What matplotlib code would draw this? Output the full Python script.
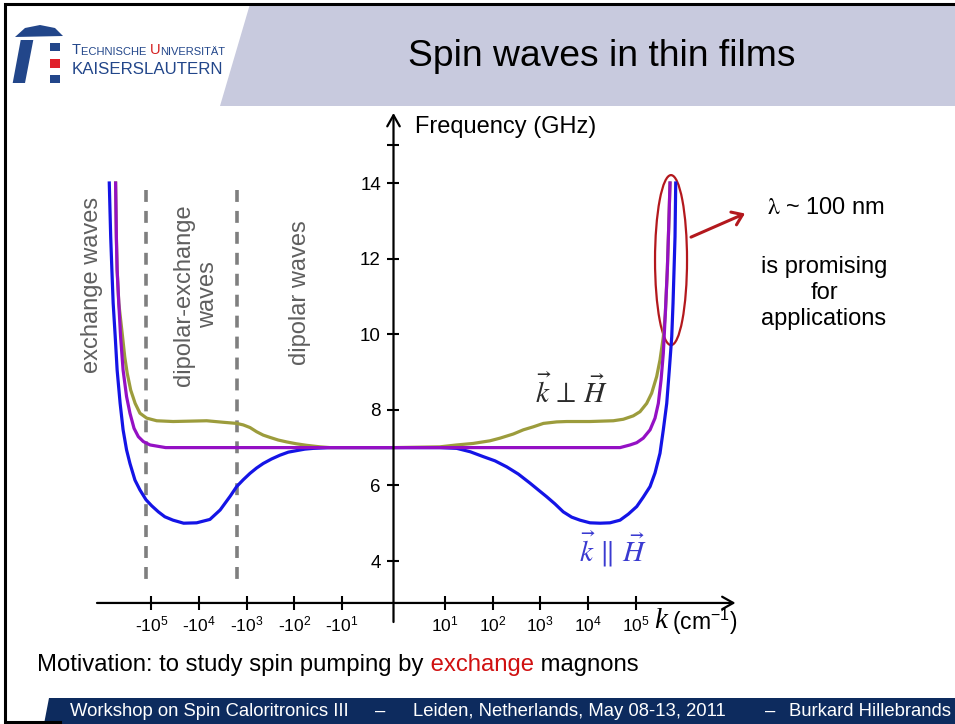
import numpy as np
import matplotlib
matplotlib.use('Agg')
import matplotlib.pyplot as plt
from matplotlib.patches import Polygon, Rectangle, Ellipse, FancyArrowPatch
from matplotlib.ticker import NullLocator

plt.rcParams['font.family'] = ['Liberation Sans', 'DejaVu Sans']
plt.rcParams['mathtext.fontset'] = 'custom'
plt.rcParams['mathtext.rm'] = 'Liberation Sans'
plt.rcParams['mathtext.it'] = 'Liberation Sans:italic'
plt.rcParams['mathtext.bf'] = 'Liberation Sans:bold'

# spin-wave dispersion, wave vector k in 1/cm, frequency in GHz
# k parallel to H (blue)
k_par = [-7.6e5, -7.1e5, -6.7e5, -6.3e5, -5.7e5, -5.2e5, -4.5e5, -3.9e5, -3.3e5,
         -2.8e5, -2.2e5, -1.73e5, -1.29e5, -9.8e4, -7.1e4, -5.2e4, -3.5e4, -2.1e4,
         -1.12e4, -5.9e3, -3.6e3, -2.2e3, -1.62e3, -1.18e3, -850, -620, -450, -300,
         -200, -134, -90, -60, -40, -18, 0,
         9, 17.7, 34, 64, 112, 198, 346, 608, 908, 1360, 2030, 3030, 4550, 6800,
         1.1e4, 1.79e4, 2.89e4, 4.69e4, 7.0e4, 1.05e5, 1.44e5, 2.0e5, 2.54e5,
         3.23e5, 3.79e5, 4.47e5, 5.06e5, 5.69e5, 6.06e5, 6.36e5, 6.67e5, 6.9e5]
f_par = [14.0, 12.58, 11.70, 10.82, 9.93, 9.05, 8.17, 7.47, 6.94,
         6.58, 6.14, 5.88, 5.62, 5.46, 5.30, 5.17, 5.08, 5.0,
         5.01, 5.10, 5.35, 5.72, 5.97, 6.15, 6.32, 6.46, 6.58, 6.70,
         6.80, 6.88, 6.92, 6.96, 6.98, 7.0, 7.0,
         7.0, 6.98, 6.89, 6.76, 6.65, 6.49, 6.30, 6.06, 5.88, 5.70, 5.51, 5.30, 5.16, 5.08,
         5.01, 5.0, 5.01, 5.08, 5.24, 5.44, 5.69, 5.97, 6.33,
         6.85, 7.47, 8.17, 9.05, 9.93, 10.82, 11.7, 12.58, 14.0]

# k perpendicular to H (olive)
k_perp = [-5.6e5, -5.4e5, -5.2e5, -4.8e5, -4.0e5, -3.6e5, -3.2e5, -2.7e5, -2.18e5,
          -1.73e5, -1.25e5, -7.7e4, -3.5e4, -1.55e4, -6.9e3, -3.1e3, -1.62e3, -1.18e3,
          -850, -620, -450, -325, -218, -145, -90, -55, -29, -18, 0,
          9, 17.7, 39, 88, 143, 272, 440, 713, 1160, 2210, 3580, 1.1e4, 3.39e4,
          5.5e4, 8.9e4, 1.23e5, 1.7e5, 2.16e5, 2.75e5, 3.23e5, 3.79e5, 4.18e5,
          4.6e5, 4.92e5, 5.24e5]
f_perp = [14.0, 12.58, 11.7, 10.82, 9.93, 9.40, 8.97, 8.52, 8.17,
          7.91, 7.78, 7.71, 7.69, 7.70, 7.71, 7.67, 7.64, 7.60,
          7.53, 7.42, 7.33, 7.27, 7.20, 7.15, 7.10, 7.06, 7.02, 7.0, 7.0,
          7.02, 7.07, 7.11, 7.18, 7.25, 7.36, 7.47, 7.55, 7.64, 7.68, 7.69, 7.69, 7.71,
          7.75, 7.84, 7.95, 8.17, 8.44, 8.88, 9.32, 9.93, 10.55,
          11.7, 12.84, 14.0]

# intermediate branch (purple)
k_mid = [-5.6e5, -5.4e5, -5.2e5, -4.8e5, -4.4e5, -3.9e5, -3.3e5, -2.8e5, -2.3e5,
         -1.87e5, -1.47e5, -1.06e5, -7.7e4, -5.0e4, 0,
         4.7e4, 7.6e4, 1.05e5, 1.44e5, 2.0e5, 2.54e5, 2.98e5, 3.4e5, 3.79e5,
         4.18e5, 4.6e5, 4.92e5, 5.24e5]
f_mid = [14.0, 12.58, 11.7, 10.82, 9.93, 9.05, 8.35, 7.91, 7.51,
         7.29, 7.16, 7.07, 7.04, 7.0, 7.0,
         7.0, 7.07, 7.13, 7.25, 7.47, 7.78, 8.17, 8.79, 9.49,
         10.55, 11.7, 12.84, 14.0]

# borders between exchange / dipolar-exchange / dipolar regimes
region_edges = [-1.3e5, -1.6e3]

k_ticks = [-1e5, -1e4, -1e3, -1e2, -1e1, 1e1, 1e2, 1e3, 1e4, 1e5]
f_ticks = [4, 6, 8, 10, 12, 14, 15]
f_labels = ['4', '6', '8', '10', '12', '14', '']
f_axis = 2.89

W, H = 955, 724
fig = plt.figure(figsize=(W / 100, H / 100), dpi=100)

# slide background in pixel coordinates
bg = fig.add_axes([0, 0, 1, 1])
bg.set_xlim(0, W)
bg.set_ylim(H, 0)
bg.axis('off')

bg.add_patch(Polygon([(250, 4), (W, 4), (W, 106), (220, 106)], closed=True,
                     facecolor='#c8cade', edgecolor='none'))
bg.plot([W, 5, 5, 60], [4, 4, 722, 722], color='black', lw=2.2, solid_joinstyle='miter')
bg.text(602, 57, 'Spin waves in thin films', ha='center', va='center', fontsize=26.8)

# university logo
blue_logo = '#22468a'
bg.add_patch(Polygon([(15, 37), (25, 28), (40, 25), (55, 28), (63, 36)], closed=True,
                     facecolor=blue_logo, edgecolor='none'))
bg.add_patch(Polygon([(20.7, 40), (33.3, 40), (25, 83), (12.7, 83)], closed=True,
                     facecolor=blue_logo, edgecolor='none'))
for y0, c in [(42.7, blue_logo), (59.3, '#e0202a'), (75, blue_logo)]:
    bg.add_patch(Rectangle((49.5, y0), 10.5, 8.3, facecolor=c, edgecolor='none'))
t = bg.text(72, 54, 'T', fontsize=10.5, color=blue_logo, va='baseline')
for s, c, fs in [('ECHNISCHE ', blue_logo, 8), ('U', '#d42020', 10.5), ('NIVERSITÄT', blue_logo, 8)]:
    t = bg.annotate(s, xycoords=t, xy=(1, 0), va='bottom', fontsize=fs, color=c)
bg.text(72, 73.5, 'KAISERSLAUTERN', fontsize=12.2, color=blue_logo, va='baseline')

# footer
bg.add_patch(Polygon([(44, H), (49, 698), (W, 698), (W, H)], closed=True,
                     facecolor='#0d2b5e', edgecolor='none'))
foot = dict(color='white', fontsize=13.3, va='center')
bg.text(70, 711, 'Workshop on Spin Caloritronics III', **foot)
bg.text(380, 711, '–', ha='center', **foot)
bg.text(413, 711, 'Leiden, Netherlands, May 08-13, 2011', **foot)
bg.text(770, 711, '–', ha='center', **foot)
bg.text(951, 711, 'Burkard Hillebrands', ha='right', **foot)

t = bg.text(37, 671, 'Motivation: to study spin pumping by', fontsize=17.2, va='baseline')
t = bg.annotate(' exchange', xycoords=t, xy=(1, 0), va='bottom', fontsize=17.2, color='#d01010')
bg.annotate(' magnons', xycoords=t, xy=(1, 0), va='bottom', fontsize=17.2)

# dispersion chart
ax = fig.add_axes([60 / W, 1 - 640 / H, 680 / W, 540 / H])
ax.patch.set_visible(False)
ax.set_xscale('symlog', linthresh=10, linscale=0.97)
dec_px = 47.7
t_lo = -(393.5 - 60) / dec_px * 10
t_hi = (740 - 393.5) / dec_px * 10
inv = ax.xaxis.get_transform().inverted()
ax.set_xlim(*inv.transform(np.array([[t_lo], [t_hi]])).ravel())
ax.set_ylim(14 - (640 - 183) / 37.8, 14 + (183 - 100) / 37.8)

for sp in ax.spines.values():
    sp.set_visible(False)
ax.spines['bottom'].set_position(('data', f_axis))
ax.spines['left'].set_position(('data', 0))

ax.set_xticks(k_ticks)
ax.set_xticklabels([('-' if v < 0 else '') + r'$10^{%d}$' % round(np.log10(abs(v))) for v in k_ticks])
ax.xaxis.set_minor_locator(NullLocator())
ax.set_yticks(f_ticks)
ax.set_yticklabels(f_labels)
ax.yaxis.set_minor_locator(NullLocator())
ax.tick_params(axis='x', direction='inout', length=10, width=1.5, pad=3, labelsize=12.5)
ax.tick_params(axis='y', direction='inout', length=8, width=1.5, pad=5, labelsize=13.5)

arrow_kw = dict(arrowstyle='->,head_length=0.8,head_width=0.45', lw=1.6, color='black',
                shrinkA=0, shrinkB=0)
ax.annotate('', xy=(0.9934, f_axis), xycoords=('axes fraction', 'data'),
            xytext=(0.0544, f_axis), textcoords=('axes fraction', 'data'), arrowprops=arrow_kw)
ax.annotate('', xy=(0, 0.976), xycoords=('data', 'axes fraction'),
            xytext=(0, 0.0333), textcoords=('data', 'axes fraction'), arrowprops=arrow_kw)

ax.vlines(region_edges, 13.81, 3.42, colors='#7f7f7f', lw=2.6, linestyles=(0, (3.3, 2.5)))

ax.plot(k_perp, f_perp, color='#9c9c3c', lw=2.3, solid_joinstyle='round')
ax.plot(k_par, f_par, color='#1414e6', lw=2.3, solid_joinstyle='round')
ax.plot(k_mid, f_mid, color='#9410c4', lw=2.3, solid_joinstyle='round')

# axis titles and annotations
bg.text(415, 127, 'Frequency (GHz)', ha='left', va='center', fontsize=17)
bg.text(661, 621, 'k', ha='center', va='center', fontsize=21, family='Liberation Serif', style='italic')
bg.text(672, 622, '(cm$^{-1}$)', ha='left', va='center', fontsize=16.5)

gray = '#5f5f5f'
bg.text(91.7, 285, 'exchange waves', rotation=90, ha='center', va='center', fontsize=17, color=gray)
bg.text(196, 295, 'dipolar-exchange\nwaves', rotation=90, ha='center', va='center',
        fontsize=17, color=gray, multialignment='center', linespacing=1.1)
bg.text(300, 293, 'dipolar waves', rotation=90, ha='center', va='center', fontsize=17, color=gray)

bg.text(571, 392, r'$\vec{k}\,\perp\,\vec{H}$', ha='center', va='center', fontsize=21,
        color='#2b2b2b', math_fontfamily='stix')
bg.text(613, 549, r'$\vec{k}\,\parallel\,\vec{H}$', ha='center', va='center', fontsize=21,
        color='#3a3ad0', math_fontfamily='stix')

# highlight of the short-wavelength exchange branch
cx, cy = bg.transData.inverted().transform(ax.transData.transform((5.5e5, 11.96)))
bg.add_patch(Ellipse((cx, cy), 32, 170, facecolor='none', edgecolor='#b3181d', lw=1.6))
bg.add_patch(FancyArrowPatch((cx + 20, cy - 23), (745, 213.5), arrowstyle='->,head_length=7,head_width=5',
                             color='#b3181d', lw=2.2, mutation_scale=1, shrinkA=0, shrinkB=0))
bg.text(826, 208, r'$\mathrm{\lambda}$ ~ 100 nm', ha='center', va='center', fontsize=17,
        math_fontfamily='stix')
bg.text(824, 293, 'is promising\nfor\napplications', ha='center', va='center', fontsize=17,
        multialignment='center', linespacing=1.25)

fig.savefig('out.png', dpi=100)
